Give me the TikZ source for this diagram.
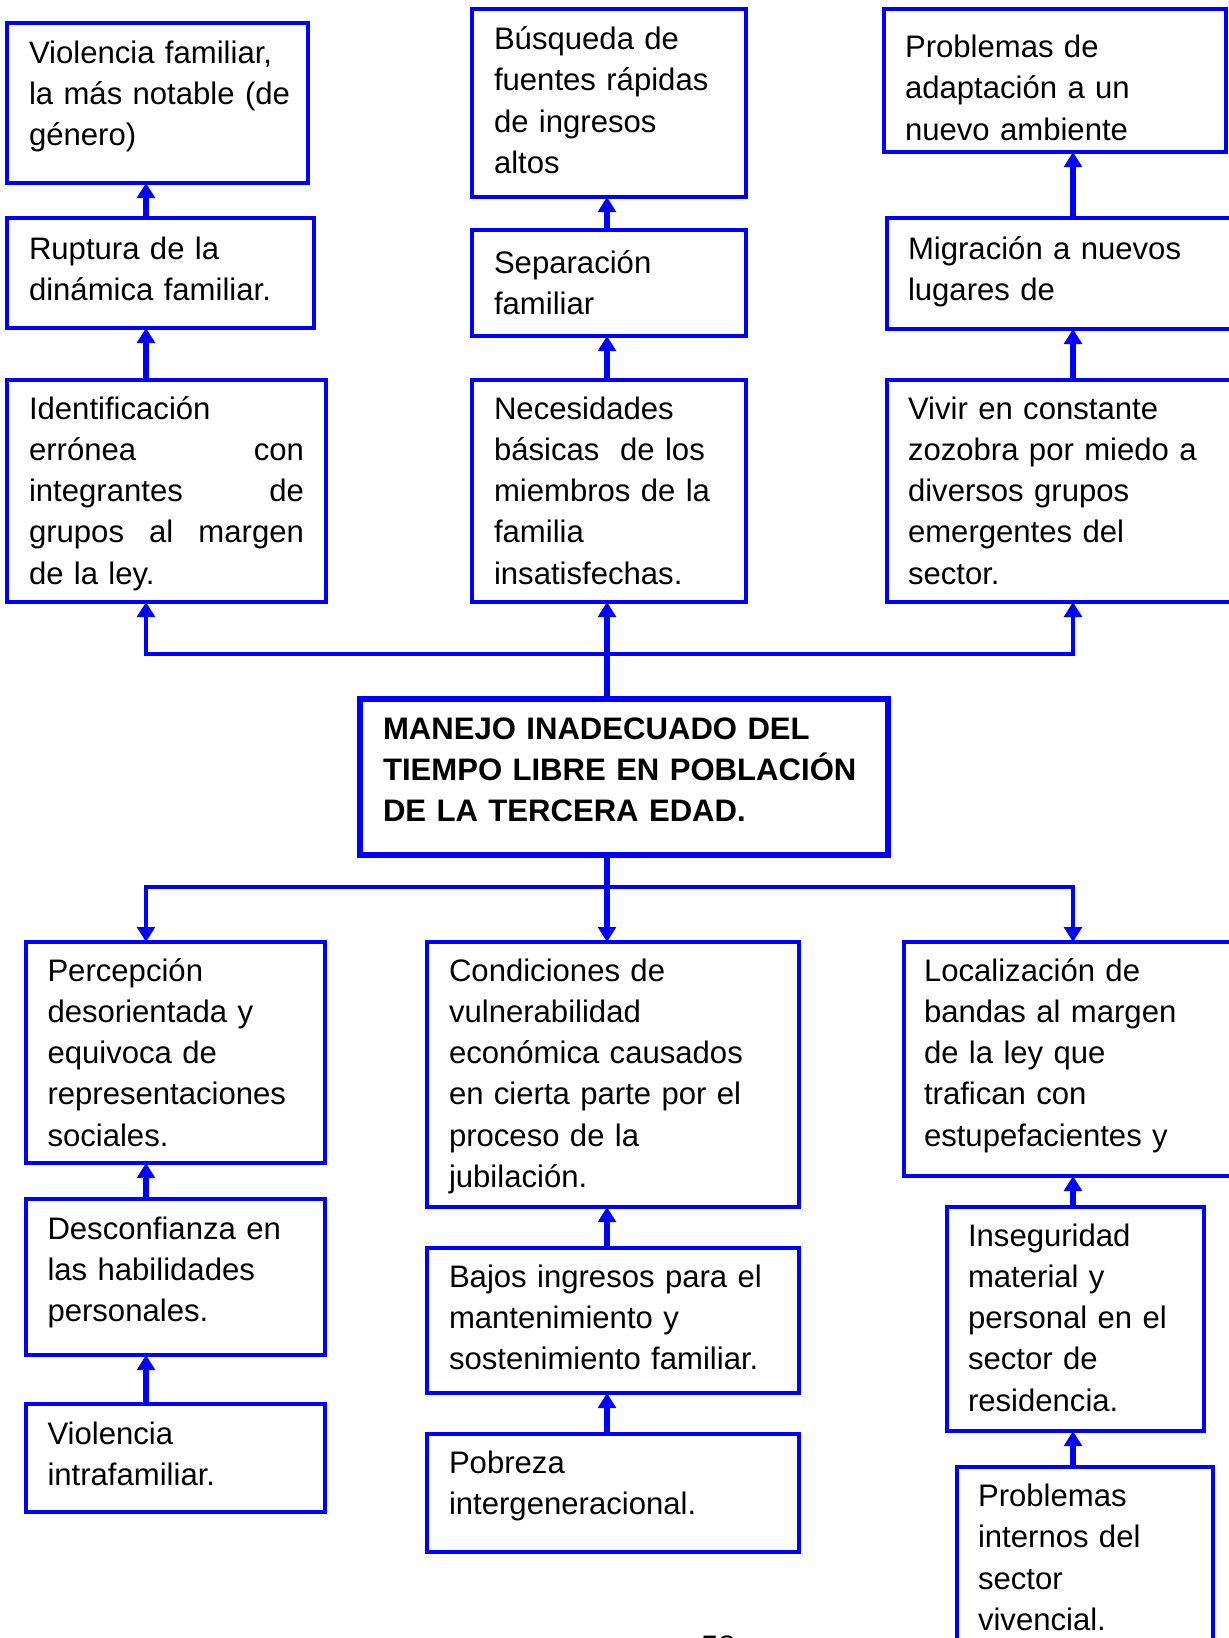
\documentclass[tikz,border=0pt]{standalone}
\usepackage{fontspec}
\setmainfont{Liberation Sans}
\usetikzlibrary{arrows.meta,fit}
\definecolor{dblue}{RGB}{0,0,255}
\tikzset{
  box/.style={draw=dblue, line width=1.6pt, inner sep=0pt, outer sep=0pt},
  mainbox/.style={draw=dblue, line width=2.75pt, inner sep=0pt, outer sep=0pt},
  txt/.style={anchor=base west, inner sep=0pt, outer sep=0pt, text width=180pt, align=left,
    font=\fontsize{15.55}{20.65}\selectfont},
  maintxt/.style={txt, text width=280pt, font=\fontsize{15.55}{20.5}\selectfont\bfseries},
  conn/.style={draw=dblue, line width=2.7pt, -{Triangle[width=8.8pt,length=7.5pt]}},
  branch/.style={draw=dblue, line width=2.4pt, line join=miter,
    {Triangle[width=8.8pt,length=7.5pt]}-{Triangle[width=8.8pt,length=7.5pt]}},
}
\begin{document}
\begin{tikzpicture}[x=0.5pt,y=-0.5pt]
\fill[white] (0,0) rectangle (1228,1638);
\useasboundingbox (0,0) rectangle (1228,1638);
% column axes
\coordinate (xa) at (146,0);
\coordinate (xb) at (607,0);
\coordinate (xc) at (1073,0);
% top boxes
\node[box, fit={(7,23) (308,183)}] (a1) {};
\node[box, fit={(472,9) (746,197)}] (b1) {};
\node[box, fit={(884,9) (1226,152)}] (c1) {};
\node[box, fit={(7,218) (314,328)}] (a2) {};
\node[box, fit={(472,230) (746,336)}] (b2) {};
\node[box, fit={(887,218) (1240,329)}] (c2) {};
\node[box, fit={(7,380) (326,602)}] (a3) {};
\node[box, fit={(472,380) (746,602)}] (b3) {};
\node[box, fit={(887,380) (1240,602)}] (c3) {};
% centre
\node[mainbox, fit={(360,699) (888,855)}] (ctr) {};
% bottom boxes
\node[box, fit={(26,942) (325,1163)}] (a4) {};
\node[box, fit={(427,942) (799,1207)}] (b4) {};
\node[box, fit={(904,942) (1240,1176)}] (c4) {};
\node[box, fit={(26,1199) (325,1355)}] (a5) {};
\node[box, fit={(427,1248) (799,1393)}] (b5) {};
\node[box, fit={(947,1207) (1204,1431)}] (c5) {};
\node[box, fit={(26,1404) (325,1512)}] (a6) {};
\node[box, fit={(427,1434) (799,1552)}] (b6) {};
\node[box, fit={(957,1467) (1213,1720)}] (c6) {};
% texts top
\node[txt] (a1t) at (29,63) {Violencia familiar,\\la más notable (de\\género)};
\node[txt] (b1t) at (494,49.5) {Búsqueda de\\fuentes rápidas\\de ingresos\\altos};
\node[txt] (c1t) at (905,57.5) {Problemas de\\adaptación a un\\nuevo ambiente};
\node[txt] (a2t) at (29,259) {Ruptura de la\\dinámica familiar.};
\node[txt] (b2t) at (494,273) {Separación\\familiar};
\node[txt] (c2t) at (908,259) {Migración a nuevos\\lugares de};
\node[txt, text width=137.5pt] (a3t) at (29,419) {Identificación\\errónea\hfill con\\integrantes\hfill de\\grupos\hfill al\hfill margen\\de la ley.};
\node[txt] (b3t) at (494,419) {Necesidades\\básicas\ \ de los\\miembros de la\\familia\\insatisfechas.};
\node[txt] (c3t) at (908,419) {Vivir en constante\\zozobra por miedo a\\diversos grupos\\emergentes del\\sector.};
% centre text
\node[maintxt] (ctrt) at (383,739) {MANEJO INADECUADO DEL\\TIEMPO LIBRE EN POBLACIÓN\\DE LA TERCERA EDAD.};
% texts bottom
\node[txt] (a4t) at (47.5,981) {Percepción\\desorientada y\\equivoca de\\representaciones\\sociales.};
\node[txt] (b4t) at (449,981) {Condiciones de\\vulnerabilidad\\económica causados\\en cierta parte por el\\proceso de la\\jubilación.};
\node[txt] (c4t) at (924,981) {Localización de\\bandas al margen\\de la ley que\\trafican con\\estupefacientes y};
\node[txt] (a5t) at (47.5,1239) {Desconfianza en\\las habilidades\\personales.};
\node[txt] (b5t) at (449,1287) {Bajos ingresos para el\\mantenimiento y\\sostenimiento familiar.};
\node[txt] (c5t) at (968,1246) {Inseguridad\\material y\\personal en el\\sector de\\residencia.};
\node[txt] (a6t) at (47.5,1444) {Violencia\\intrafamiliar.};
\node[txt] (b6t) at (449,1473) {Pobreza\\intergeneracional.};
\node[txt] (c6t) at (978,1506.5) {Problemas\\internos del\\sector\\vivencial.};
\node[txt, text width=40pt] (pg) at (701,1657) {58};
% connectors top
\draw[conn] (a2.north -| xa) -- (a1.south -| xa);
\draw[conn] (a3.north -| xa) -- (a2.south -| xa);
\draw[conn] (b2.north -| xb) -- (b1.south -| xb);
\draw[conn] (b3.north -| xb) -- (b2.south -| xb);
\draw[conn] (c2.north -| xc) -- (c1.south -| xc);
\draw[conn] (c3.north -| xc) -- (c2.south -| xc);
\coordinate (hl) at (146,654);
\coordinate (hr) at (1073,654);
\draw[branch] (hl |- a3.south) -- (hl) -- (hr) -- (hr |- c3.south);
\draw[conn] (ctr.north -| xb) -- (b3.south -| xb);
% connectors bottom
\coordinate (ll) at (146,887);
\coordinate (lr) at (1073,887);
\draw[branch] (ll |- a4.north) -- (ll) -- (lr) -- (lr |- c4.north);
\draw[conn] (ctr.south -| xb) -- (b4.north -| xb);
\draw[conn] (a5.north -| xa) -- (a4.south -| xa);
\draw[conn] (a6.north -| xa) -- (a5.south -| xa);
\draw[conn] (b5.north -| xb) -- (b4.south -| xb);
\draw[conn] (b6.north -| xb) -- (b5.south -| xb);
\draw[conn] (c5.north -| xc) -- (c4.south -| xc);
\draw[conn] (c6.north -| xc) -- (c5.south -| xc);
\end{tikzpicture}
\end{document}
